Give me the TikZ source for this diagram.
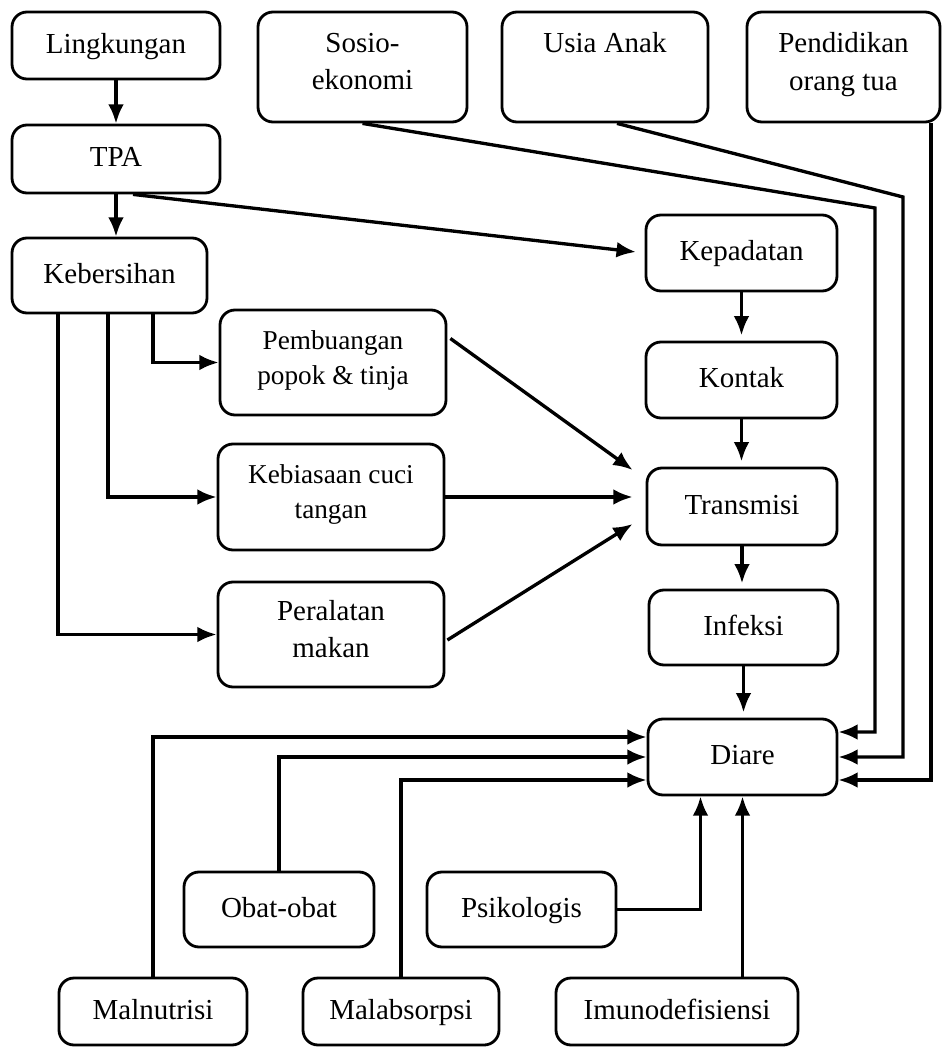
\documentclass[tikz,border=0pt]{standalone}
\usepackage{fontspec}
\setmainfont{Liberation Serif}
\usetikzlibrary{arrows.meta,calc,shapes}
\tikzstyle{kotak} = [draw, rectangle, rounded corners=0.3cm, line width=1.6pt, align=center, inner sep=2pt, font=\fontsize{16.5}{21.5}\selectfont, execute at begin node=\strut, execute at end node=\strut]
\tikzstyle{kotak_kecil} = [kotak, font=\fontsize{15.5}{20}\selectfont]
\tikzset{ukuran/.style 2 args={minimum width=#1*0.02cm, minimum height=#2*0.02cm}}

\begin{document}
\begin{tikzpicture}[x=0.02cm, y=-0.02cm, >={Latex[length=11pt,width=9pt]}, line width=1.9pt]
    \useasboundingbox (0,0) rectangle (942,1048);
    % baris atas
    \node [kotak, ukuran={208}{67}] (lingkungan) at (116,45.5) {Lingkungan};
    \node [kotak, ukuran={209}{110}] (sosio) at (362.5,67) {Sosio-\\ekonomi};
    \node [kotak, ukuran={206}{110}] (usia) at (605,67) {Usia Anak\\};
    \node [kotak, ukuran={193}{110}] (pendidikan) at (843.5,67) {Pendidikan\\orang tua};
    \node [kotak, ukuran={208}{68}] (tpa) at (116,159) {TPA};
    \node [kotak, ukuran={195}{75}] (kebersihan) at (109.5,275.5) {Kebersihan};

    \node [kotak_kecil, ukuran={226}{105}] (pembuangan) at (333,362.5) {Pembuangan\\popok \& tinja};
    \node [kotak_kecil, ukuran={226}{106}] (kebiasaan) at (331,497) {Kebiasaan cuci\\tangan};
    \node [kotak, ukuran={226}{105}] (peralatan) at (331,634.5) {Peralatan\\makan};

    % kolom kanan
    \node [kotak, ukuran={191}{76}] (kepadatan) at (741.5,253) {Kepadatan};
    \node [kotak, ukuran={191}{76}] (kontak) at (741.5,380) {Kontak};
    \node [kotak, ukuran={190}{77}] (transmisi) at (742,506.5) {Transmisi};
    \node [kotak, ukuran={189}{75}] (infeksi) at (743.5,627.5) {Infeksi};
    \node [kotak, ukuran={189}{76}] (diare) at (742.5,757) {Diare};

    % baris bawah
    \node [kotak, ukuran={190}{75}] (obat) at (279,909.5) {Obat-obat};
    \node [kotak, ukuran={189}{75}] (psikologis) at (521.5,909.5) {Psikologis};
    \node [kotak, ukuran={188}{67}] (malnutrisi) at (153,1011.5) {Malnutrisi};
    \node [kotak, ukuran={196}{67}] (malabsorpsi) at (401,1011.5) {Malabsorpsi};
    \node [kotak, ukuran={242}{67}] (imuno) at (677,1011.5) {Imunodefisiensi};

    \coordinate (tekuk_sosio) at (875,208);
    \coordinate (tekuk_usia) at (903,197);

    \path[->] (lingkungan) edge (tpa)
     (tpa.south) edge (tpa.south |- kebersihan.north)
     ($(tpa.south)+(17,0)$) edge[shorten >=5pt] (kepadatan.west)
     (kepadatan) edge[shorten >=3pt] (kontak)
     (kontak) edge[shorten >=3pt] (kontak |- transmisi.north)
     (transmisi.south) edge[shorten >=3pt] (transmisi.south |- infeksi.north)
     (infeksi.south) edge[shorten >=3pt] (infeksi.south |- diare.north);

    % dari kebersihan
    \draw[->] ($(kebersihan.south)+(43.5,0)$) |- (pembuangan.west);
    \draw[->] ($(kebersihan.south)+(-1.5,0)$) |- (kebiasaan.west);
    \draw[->] ($(kebersihan.south)+(-51.5,0)$) |- (peralatan.west);

    \draw[->] ($(pembuangan.east)+(3,-24)$) -- ($(transmisi.west)+(-13,-36.5)$);
    \draw[->] (kebiasaan.east) -- ($(transmisi.west)+(-13,-9.5)$);
    \draw[->] ($(peralatan.east)+(2,5.5)$) -- ($(transmisi.west)+(-13,17.5)$);

    % masuk ke diare dari kanan
    \draw[->] (sosio.south) -- (tekuk_sosio) |- ($(diare.east)+(0,-25)$);
    \draw[->] ($(usia.south)+(12,0)$) -- (tekuk_usia) |- (diare.east);
    \draw[->] ($(pendidikan.south)+(87.5,0)$) |- ($(diare.east)+(0,23)$);

    % masuk ke diare dari kiri dan bawah
    \draw[->] (malnutrisi.north) |- ($(diare.west)+(0,-20)$);
    \draw[->] (obat.north) |- (diare.west);
    \draw[->] (malabsorpsi.north) |- ($(diare.west)+(0,23)$);
    \draw[->] (psikologis.east) -| ($(diare.south)+(-42,0)$);
    \draw[->] (diare.south |- imuno.north) -- (diare.south);
\end{tikzpicture}
\end{document}
